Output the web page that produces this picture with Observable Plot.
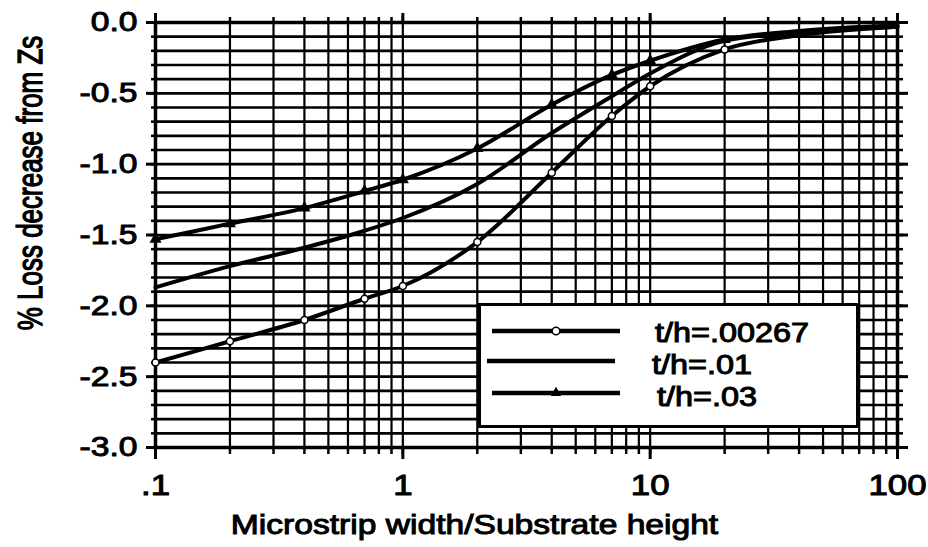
<!DOCTYPE html>
<html>
<head>
<meta charset="utf-8">
<script src="https://cdn.jsdelivr.net/npm/d3@7"></script>
<script src="https://cdn.jsdelivr.net/npm/@observablehq/plot@0.6"></script>
<style>
  body { margin: 0; background: #fff; }
  #wrap { position: relative; width: 928px; height: 547px; background: #fff; }
  #wrap svg text { font-family: "Liberation Sans", Arial, Helvetica, sans-serif; stroke: #000; stroke-width: 1px; }
  #legend { position: absolute; left: 478px; top: 303px; }
</style>
</head>
<body>
<div id="wrap"></div>
<script>
// ---- data ----
const widthRatio   = [0.1, 0.2, 0.4, 0.7, 1, 2, 4, 7, 10, 20, 40, 100];
const lossT00267   = [-2.40, -2.25, -2.10, -1.95, -1.86, -1.55, -1.06, -0.66, -0.45, -0.19, -0.09, -0.03];
const lossT01      = [-1.87, -1.72, -1.59, -1.47, -1.38, -1.14, -0.78, -0.52, -0.36, -0.13, -0.07, -0.03];
const lossT03      = [-1.53, -1.42, -1.31, -1.19, -1.11, -0.89, -0.58, -0.37, -0.27, -0.12, -0.06, -0.02];
const seriesNames  = ["t/h=.00267", "t/h=.01", "t/h=.03"];
const xMajorTicks  = [0.1, 1, 10, 100];
const xTickLabels  = [".1", "1", "10", "100"];
const xMinorTicks  = [0.1,0.2,0.3,0.4,0.5,0.6,0.7,0.8,0.9, 1,2,3,4,5,6,7,8,9, 10,20,30,40,50,60,70,80,90, 100];
const yMajorTicks  = [0, -0.5, -1, -1.5, -2, -2.5, -3];
const yTickLabels  = ["0.0", "-0.5", "-1.0", "-1.5", "-2.0", "-2.5", "-3.0"];
const yMinorTicks  = d3.range(0, 31).map(i => -i / 10);
const xLabel = "Microstrip width/Substrate height";
const yLabel = "% Loss decrease from Zs";

const seriesValues = [lossT00267, lossT01, lossT03];
const rows = seriesValues.flatMap((vals, s) =>
  widthRatio.map((x, i) => ({x, y: vals[i], series: seriesNames[s]})));

const noText = () => "";

const chart = Plot.plot({
  width: 928,
  height: 547,
  marginLeft: 155,
  marginRight: 31,
  marginTop: 22,
  marginBottom: 100,
  x: {type: "log", domain: [0.1, 100], label: null},
  y: {domain: [-3, 0], label: null},
  style: {background: "#fff", color: "#000", fontFamily: "Liberation Sans, Arial, sans-serif"},
  marks: [
    Plot.ruleX(xMinorTicks, {stroke: "#000", strokeWidth: 2.2}),
    Plot.ruleY(yMinorTicks, {stroke: "#000", strokeWidth: 2.6}),
    Plot.frame({stroke: "#000", strokeWidth: 3.5}),
    // bottom axis
    Plot.axisX(xMinorTicks, {anchor: "bottom", tickSize: 7, strokeWidth: 2.5, tickFormat: noText, label: null}),
    Plot.axisX(xMajorTicks, {anchor: "bottom", tickSize: 12, tickPadding: 15, strokeWidth: 3,
      tickFormat: d => xTickLabels[xMajorTicks.indexOf(d)], fontSize: 29, label: null}),
    // top axis
    Plot.axisX(xMinorTicks, {anchor: "top", tickSize: 6, strokeWidth: 2.5, tickFormat: noText, label: null}),
    Plot.axisX(xMajorTicks, {anchor: "top", tickSize: 10, strokeWidth: 3, tickFormat: noText, label: null}),
    // left axis
    Plot.axisY(yMinorTicks, {anchor: "left", tickSize: 4, strokeWidth: 2.5, tickFormat: noText, label: null}),
    Plot.axisY(yMajorTicks, {anchor: "left", tickSize: 9, tickPadding: 9, strokeWidth: 3,
      tickFormat: d => yTickLabels[yMajorTicks.indexOf(d)], fontSize: 28, label: null}),
    // right axis
    Plot.axisY(yMinorTicks, {anchor: "right", tickSize: 5, strokeWidth: 2.5, tickFormat: noText, label: null}),
    Plot.axisY(yMajorTicks, {anchor: "right", tickSize: 10, strokeWidth: 3, tickFormat: noText, label: null}),
    // curves
    Plot.line(rows, {x: "x", y: "y", z: "series", stroke: "#000", strokeWidth: 4, curve: "monotone-x"}),
    Plot.dot(rows.filter(d => d.series === seriesNames[0] && d.x <= 20),
      {x: "x", y: "y", r: 3.5, fill: "#fff", stroke: "#000", strokeWidth: 1.5}),
    Plot.dot(rows.filter(d => d.series === seriesNames[2] && d.x <= 20),
      {x: "x", y: "y", r: 4.5, symbol: "triangle", fill: "#000"}),
    // axis titles
    Plot.text([xLabel], {frameAnchor: "bottom", lineAnchor: "middle", dx: -52, dy: 78, fontSize: 28}),
    Plot.text([yLabel], {frameAnchor: "left", rotate: -90, lineAnchor: "middle", textAnchor: "middle",
      dx: -125, dy: -52, fontSize: 26})
  ]
});

const wrap = document.getElementById("wrap");
wrap.appendChild(chart);

// legend (inside the plot area, lower right)
const lg = d3.select(wrap).append("svg")
  .attr("id", "legend").attr("width", 381).attr("height", 125);
lg.append("rect").attr("x", 1.5).attr("y", 1.5).attr("width", 378).attr("height", 122)
  .attr("fill", "#fff").attr("stroke", "#000").attr("stroke-width", 3);
const legendRows = [
  {name: seriesNames[0], y: 28, x1: 14, x2: 142, marker: "circle", tx: 177, ty: 30},
  {name: seriesNames[1], y: 58, x1: 9,  x2: 137, marker: null,     tx: 174, ty: 62},
  {name: seriesNames[2], y: 90, x1: 14, x2: 142, marker: "tri",    tx: 179, ty: 94}
];
legendRows.forEach(r => {
  lg.append("line").attr("x1", r.x1).attr("x2", r.x2).attr("y1", r.y).attr("y2", r.y)
    .attr("stroke", "#000").attr("stroke-width", 4.5);
  const mx = (r.x1 + r.x2) / 2;
  if (r.marker === "circle") {
    lg.append("circle").attr("cx", mx).attr("cy", r.y).attr("r", 3.8)
      .attr("fill", "#fff").attr("stroke", "#000").attr("stroke-width", 1.5);
  } else if (r.marker === "tri") {
    lg.append("path").attr("d", d3.symbol(d3.symbolTriangle, 50)()).attr("transform", `translate(${mx},${r.y})`)
      .attr("fill", "#000");
  }
  lg.append("text").attr("x", r.tx).attr("y", r.ty).attr("dy", "0.35em")
    .attr("font-size", 27).attr("fill", "#000").text(r.name);
});

// the scanned original is horizontally stretched; widen the glyphs to match
d3.select(wrap).selectAll("svg text").each(function() {
  const t = this.textContent;
  if (!t) return;
  const tr = this.getAttribute("transform") || "";
  if (tr.includes("rotate")) {
    this.setAttribute("transform", tr + " scale(1,1.35)");
    return;
  }
  const len = this.getComputedTextLength();
  if (len > 0) {
    this.setAttribute("textLength", (len * 1.2).toFixed(1));
    this.setAttribute("lengthAdjust", "spacingAndGlyphs");
  }
});
</script>
</body>
</html>
